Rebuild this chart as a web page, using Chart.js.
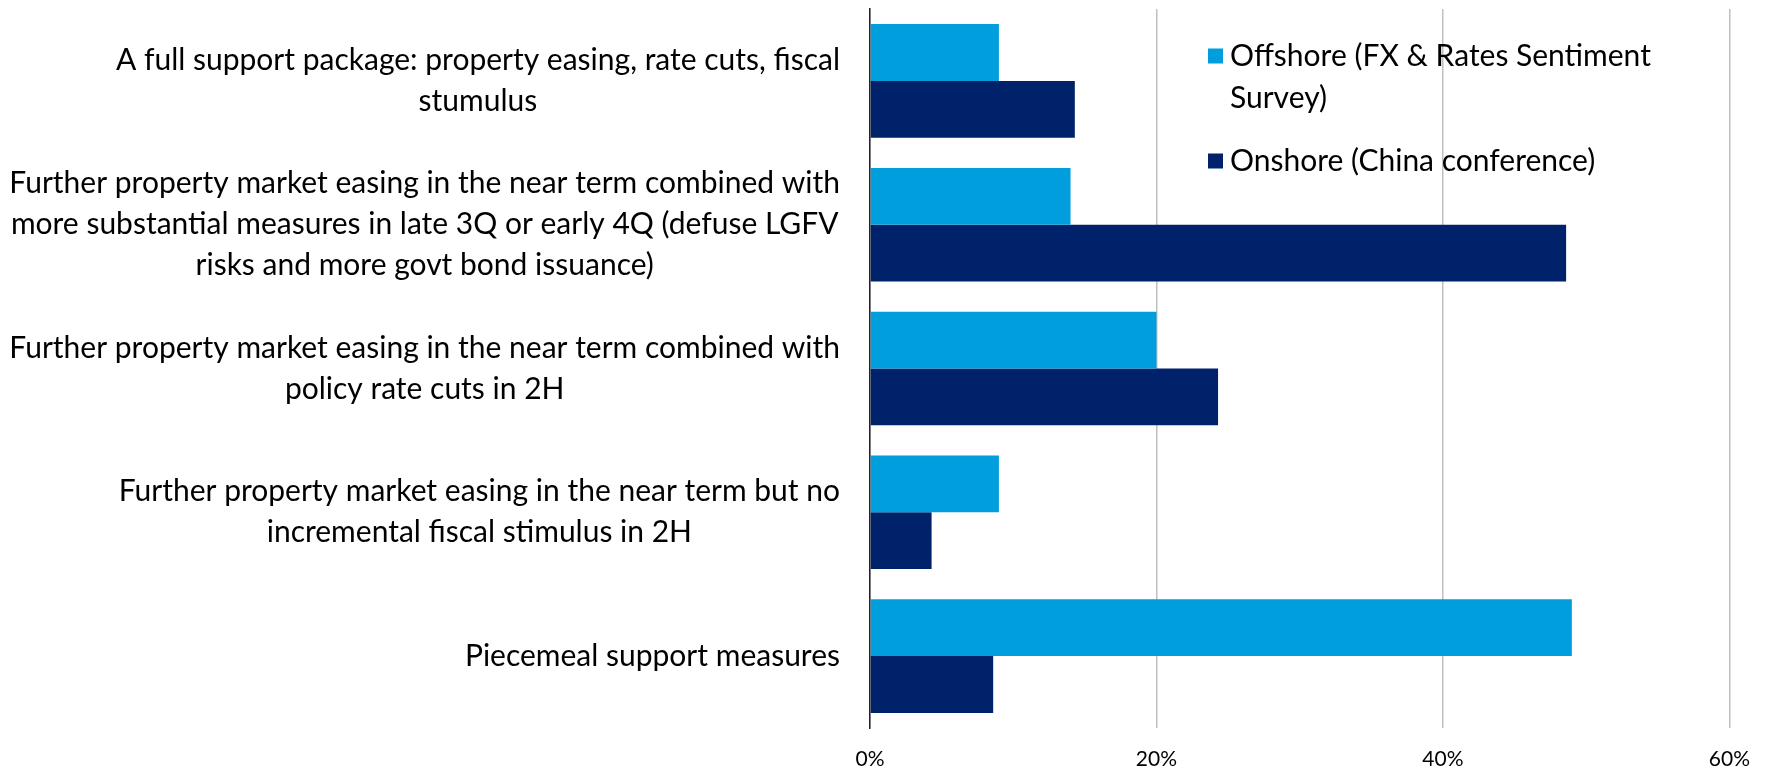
<!DOCTYPE html>
<html>
<head>
<meta charset="utf-8">
<script src="https://cdn.jsdelivr.net/npm/chart.js@4.4.1/dist/chart.umd.min.js"></script>
<style>
  html, body { margin: 0; padding: 0; background: #ffffff; }
  #wrap { width: 1769px; height: 772px; position: relative; }
</style>
</head>
<body>
<div id="wrap"><canvas id="c" width="1769" height="772"></canvas></div>
<script>
// ---- data ----
const categories = [
  ["A full support package: property easing, rate cuts, fiscal", "stumulus"],
  ["Further property market easing in the near term combined with", "more substantial measures in late 3Q or early 4Q (defuse LGFV", "risks and more govt bond issuance)"],
  ["Further property market easing in the near term combined with", "policy rate cuts in 2H"],
  ["Further property market easing in the near term but no", "incremental fiscal stimulus in 2H"],
  ["Piecemeal support measures"]
];
const seriesNames = ["Offshore (FX & Rates Sentiment Survey)", "Onshore (China conference)"];
const offshore = [9.0, 14.0, 20.0, 9.0, 49.0];
const onshore = [14.3, 48.6, 24.3, 4.3, 8.6];
const xTicks = [0, 20, 40, 60];

// ---- style ----
const FONT = "Lato, 'Open Sans', sans-serif";
const LABEL_SIZE = 30;
const LINE_H = 41;
const COLORS = ["#009EDD", "#00226A"];

const yLabelPlugin = {
  id: 'yLabels',
  afterDraw(chart) {
    const ctx = chart.ctx;
    const ys = chart.scales.y;
    ctx.save();
    ctx.font = LABEL_SIZE + "px " + FONT;
    ctx.fillStyle = "#000000";
    ctx.textAlign = "center";
    ctx.textBaseline = "middle";
    const right = chart.chartArea.left - 30;
    categories.forEach((lines, i) => {
      const yc = ys.getPixelForValue(i);
      let w = 0;
      lines.forEach(l => { w = Math.max(w, ctx.measureText(l).width); });
      const cx = right - w / 2;
      lines.forEach((l, j) => {
        ctx.fillText(l, cx, yc + (j - (lines.length - 1) / 2) * LINE_H);
      });
    });
    ctx.restore();
  }
};

function wrap(ctx, text, maxW) {
  const words = text.split(' ');
  const out = [];
  let cur = '';
  words.forEach(w => {
    const t = cur ? cur + ' ' + w : w;
    if (ctx.measureText(t).width > maxW && cur) { out.push(cur); cur = w; }
    else cur = t;
  });
  if (cur) out.push(cur);
  return out;
}

const legendPlugin = {
  id: 'customLegend',
  afterDraw(chart) {
    const ctx = chart.ctx;
    ctx.save();
    ctx.font = LABEL_SIZE + "px " + FONT;
    ctx.textBaseline = "middle";
    ctx.textAlign = "left";
    const sqX = 1208, txtX = 1230, sq = 15;
    const itemY = [56, 161];
    chart.data.datasets.forEach((ds, i) => {
      const lines = wrap(ctx, ds.label, 500);
      const y0 = itemY[i];
      ctx.fillStyle = ds.backgroundColor;
      ctx.fillRect(sqX, y0 - sq / 2, sq, sq);
      ctx.fillStyle = "#000000";
      lines.forEach((l, j) => ctx.fillText(l, txtX, y0 + j * 42));
    });
    ctx.restore();
  }
};

new Chart(document.getElementById('c'), {
  type: 'bar',
  data: {
    labels: categories.map(c => c.join(' ')),
    datasets: [
      { label: seriesNames[0], data: offshore, backgroundColor: COLORS[0], borderWidth: 0 },
      { label: seriesNames[1], data: onshore, backgroundColor: COLORS[1], borderWidth: 0 }
    ]
  },
  options: {
    indexAxis: 'y',
    responsive: false,
    animation: false,
    events: [],
    categoryPercentage: 0.79,
    barPercentage: 1.0,
    layout: { padding: { left: 0, top: 9, right: 39, bottom: 1 } },
    plugins: { legend: { display: false }, tooltip: { enabled: false } },
    scales: {
      x: {
        min: xTicks[0], max: xTicks[xTicks.length - 1],
        afterBuildTicks: (s) => { s.ticks = xTicks.map(v => ({ value: v })); },
        afterFit: (s) => { s.height = 43; },
        ticks: {
          callback: v => v + '%',
          font: { family: FONT, size: 21 },
          color: '#000000',
          padding: 19,
          maxRotation: 0
        },
        grid: { color: '#BFBFBF', lineWidth: 1.5, drawTicks: false },
        border: { display: false }
      },
      y: {
        ticks: { display: false },
        grid: { display: false },
        border: { display: true, color: '#222222', width: 1.5 },
        afterFit: (s) => { s.width = 870; }
      }
    }
  },
  plugins: [yLabelPlugin, legendPlugin]
});
</script>
</body>
</html>
